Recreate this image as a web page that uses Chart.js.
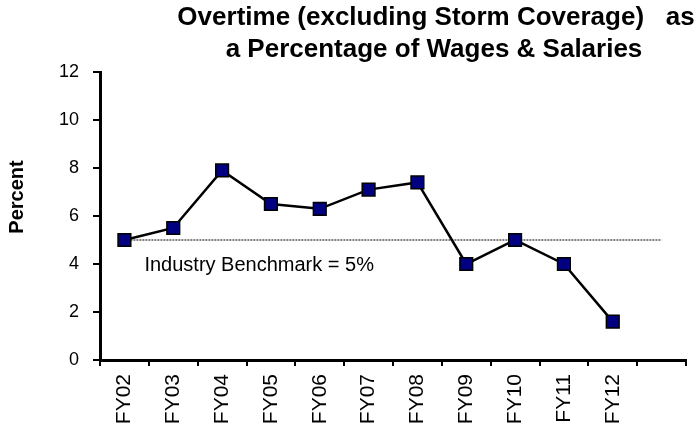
<!DOCTYPE html>
<html>
<head>
<meta charset="utf-8">
<script src="https://cdn.jsdelivr.net/npm/chart.js@4.4.1/dist/chart.umd.min.js"></script>
<style>
  html, body { margin: 0; padding: 0; background: #fff; }
  #wrap { width: 698px; height: 440px; position: relative; }
</style>
</head>
<body>
<div id="wrap"><canvas id="overtime"></canvas></div>
<script>
// data
const years = ['FY02', 'FY03', 'FY04', 'FY05', 'FY06', 'FY07', 'FY08', 'FY09', 'FY10', 'FY11', 'FY12', ''];
const overtimePct = [5.0, 5.5, 7.9, 6.5, 6.3, 7.1, 7.4, 4.0, 5.0, 4.0, 1.6, null];
const benchmark = [5, 5, 5, 5, 5, 5, 5, 5, 5, 5, 5, 5];
const yTicks = [0, 2, 4, 6, 8, 10, 12];
const titleLines = ['Overtime (excluding Storm Coverage)   as', 'a Percentage of Wages & Salaries'];
const benchmarkLabel = 'Industry Benchmark = 5%';

const FONT = "'Liberation Sans', Arial, sans-serif";

// title, y-axis caption and benchmark text
const extras = {
    id: 'extras',
    afterDraw(chart) {
        const ctx = chart.ctx;
        const x = chart.scales.x, y = chart.scales.y;
        ctx.save();
        ctx.fillStyle = '#000';
        ctx.textAlign = 'center';
        ctx.textBaseline = 'alphabetic';
        ctx.font = 'bold 26px ' + FONT;
        ctx.fillText(titleLines[0], 436, 25);
        ctx.fillText(titleLines[1], 434, 57);

        ctx.font = '20px ' + FONT;
        ctx.textAlign = 'left';
        ctx.fillText(benchmarkLabel, x.getPixelForValue(0) + 20, y.getPixelForValue(4) + 7);

        ctx.translate(17, 197);
        ctx.rotate(-Math.PI / 2);
        ctx.textAlign = 'center';
        ctx.textBaseline = 'middle';
        ctx.font = 'bold 20px ' + FONT;
        ctx.fillText('Percent', 0, 0);
        ctx.restore();
    }
};

new Chart(document.getElementById('overtime'), {
    type: 'line',
    data: {
        labels: years,
        datasets: [{
            label: 'Overtime',
            data: overtimePct,
            borderColor: '#000',
            borderWidth: 2.5,
            backgroundColor: '#000080',
            pointStyle: 'rect',
            pointRadius: 9,
            pointBorderColor: '#000',
            pointBorderWidth: 1.5,
            pointBackgroundColor: '#000080',
            tension: 0,
            order: 0
        }, {
            label: 'Benchmark',
            data: benchmark,
            borderColor: '#000',
            borderWidth: 1,
            borderDash: [2, 1],
            pointRadius: 0,
            order: 1
        }]
    },
    options: {
        responsive: true,
        maintainAspectRatio: false,
        animation: false,
        layout: { padding: { top: 72, right: 12, bottom: 0, left: 0 } },
        plugins: {
            legend: { display: false },
            tooltip: { enabled: false },
            title: { display: false }
        },
        scales: {
            x: {
                offset: true,
                grid: { offset: true, drawOnChartArea: false, drawTicks: true, tickLength: 6, color: '#000', lineWidth: 2 },
                border: { display: true, color: '#000', width: 3 },
                ticks: { color: '#000', font: { family: FONT, size: 21 }, minRotation: 90, maxRotation: 90, padding: 8, autoSkip: false },
                afterFit(s) { s.height = 80; }
            },
            y: {
                min: 0,
                max: 12,
                afterBuildTicks(s) { s.ticks = yTicks.map(v => ({ value: v })); },
                grid: { drawOnChartArea: false, drawTicks: true, tickLength: 7, color: '#000', lineWidth: 2 },
                border: { display: true, color: '#000', width: 3 },
                ticks: { color: '#000', font: { family: FONT, size: 18 }, padding: 14 },
                afterFit(s) { s.width = 100; }
            }
        }
    },
    plugins: [extras]
});
</script>
</body>
</html>
